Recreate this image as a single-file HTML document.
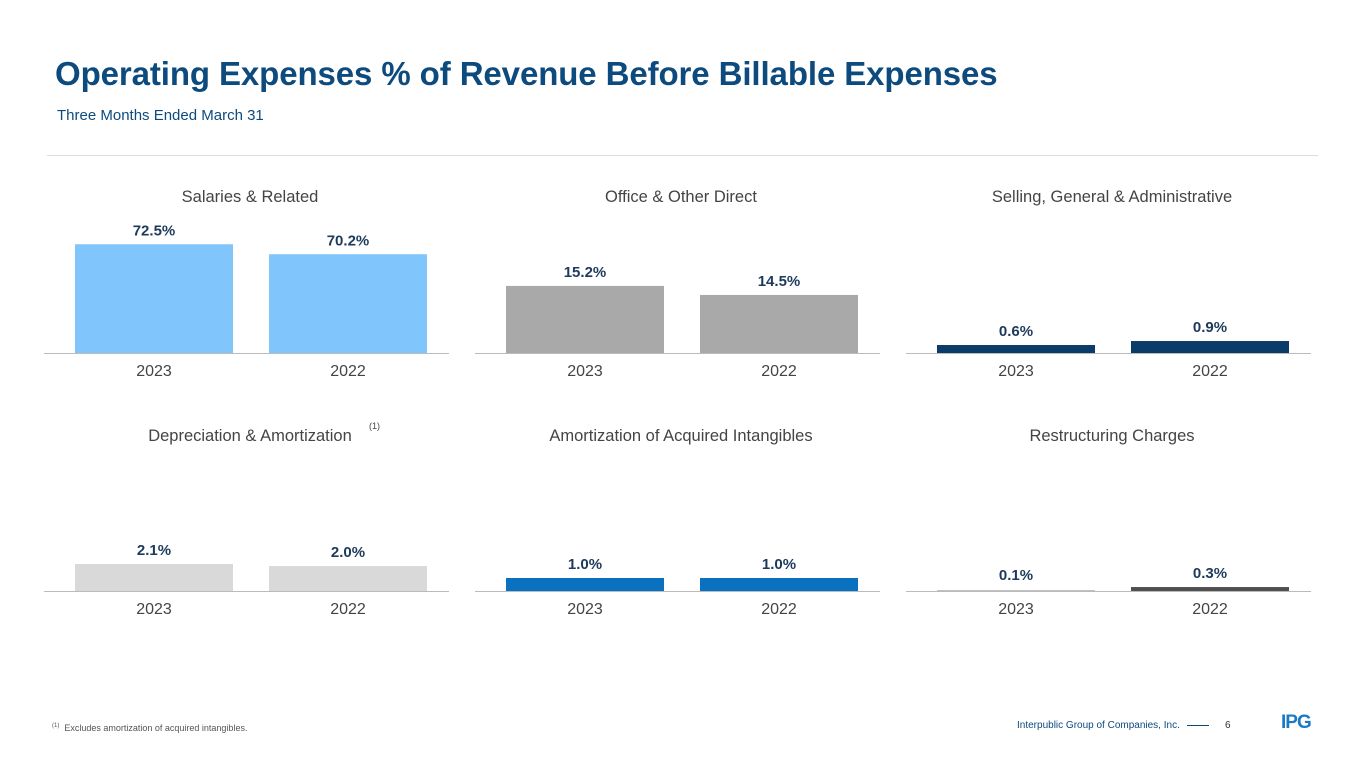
<!DOCTYPE html>
<html><head><meta charset="utf-8">
<style>
body{margin:0;width:1365px;height:768px;background:#fff;font-family:"Liberation Sans",sans-serif;overflow:hidden;position:relative}
.t{position:absolute;white-space:nowrap}
</style></head><body>
<div class="t" style="left:55px;top:55px;font-size:33px;font-weight:bold;color:#0d4a7d;letter-spacing:-0.1px">Operating Expenses % of Revenue Before Billable Expenses</div>
<div class="t" style="left:57px;top:107px;font-size:15px;color:#0d4a7d">Three Months Ended March 31</div>
<div style="position:absolute;left:47px;top:155px;width:1271px;height:1px;background:#ddd"></div>
<svg id="charts" width="1365" height="768" style="position:absolute;left:0;top:0"></svg>
<div class="t" style="left:52px;top:723px;font-size:9px;color:#555"><sup style="font-size:6px">(1)</sup>&nbsp; Excludes amortization of acquired intangibles.</div>
<div class="t" style="left:1017px;top:720px;font-size:10px;color:#0d4a7d">Interpublic Group of Companies, Inc.</div>
<div style="position:absolute;left:1187px;top:725px;width:22px;height:1px;background:#0d4a7d"></div>
<div class="t" style="left:1225px;top:720px;font-size:10px;color:#333">6</div>
<div class="t" style="left:1281px;top:712px;font-size:19px;font-weight:bold;color:#1a7bc4;letter-spacing:-1px">IPG</div>
<script>
const titles=["Salaries & Related","Office & Other Direct","Selling, General & Administrative","Depreciation & Amortization","Amortization of Acquired Intangibles","Restructuring Charges"];
const years=["2023","2022"];
const v2023=[72.5,15.2,0.6,2.1,1.0,0.1];
const v2022=[70.2,14.5,0.9,2.0,1.0,0.3];
const axisMin=[47.5,10,0,0.75,0,0.08];
const pxPerUnit=[4.35,12.9,13.3,20,13,18];
const colors=["#80c5fc","#a9a9a9","#0b3b67","#d9d9d9","#0a70c0","#505050"];
const svg=document.getElementById('charts');
const NS="http://www.w3.org/2000/svg";
function mk(tag,attrs,txt){const e=document.createElementNS(NS,tag);for(const k in attrs)e.setAttribute(k,attrs[k]);if(txt!==undefined)e.textContent=txt;svg.appendChild(e);return e;}
function yScale(i,v,base){return base-Math.max(0,(v-axisMin[i])*pxPerUnit[i]);}
for(let i=0;i<6;i++){
  const col=i%3,row=Math.floor(i/3);
  const x0=[44,475,906][col], base=row?591:353, cx=[75,506,937][col];
  let t=mk('text',{x:x0+206,y:row?441:202,'text-anchor':'middle','font-size':16.5,fill:'#444','font-family':'Liberation Sans'},titles[i]);
  
  
  if(i===3){let s=mk('text',{x:369,y:429,'font-size':9,fill:'#444'},'(1)');}
  const vals=[v2023[i],v2022[i]];
  for(let j=0;j<2;j++){
    const bx=cx+j*194, y=yScale(i,vals[j],base);
    let r=mk('rect',{x:bx,y:y,width:158,height:base-y,fill:colors[i]});
    
    
    let l=mk('text',{x:bx+79,y:Math.min(y,base-2)-9,'text-anchor':'middle','font-size':15,'font-weight':'bold',fill:'#1d3a5c'},vals[j].toFixed(1)+'%');
    
    
    let yl=mk('text',{x:bx+79,y:base+23,'text-anchor':'middle','font-size':16,fill:'#444'},years[j]);
    
    
  }
  let a=mk('line',{x1:x0,x2:x0+405,y1:base+0.5,y2:base+0.5,stroke:'#bbb','stroke-width':1});
  
  
}
</script>
</body></html>
